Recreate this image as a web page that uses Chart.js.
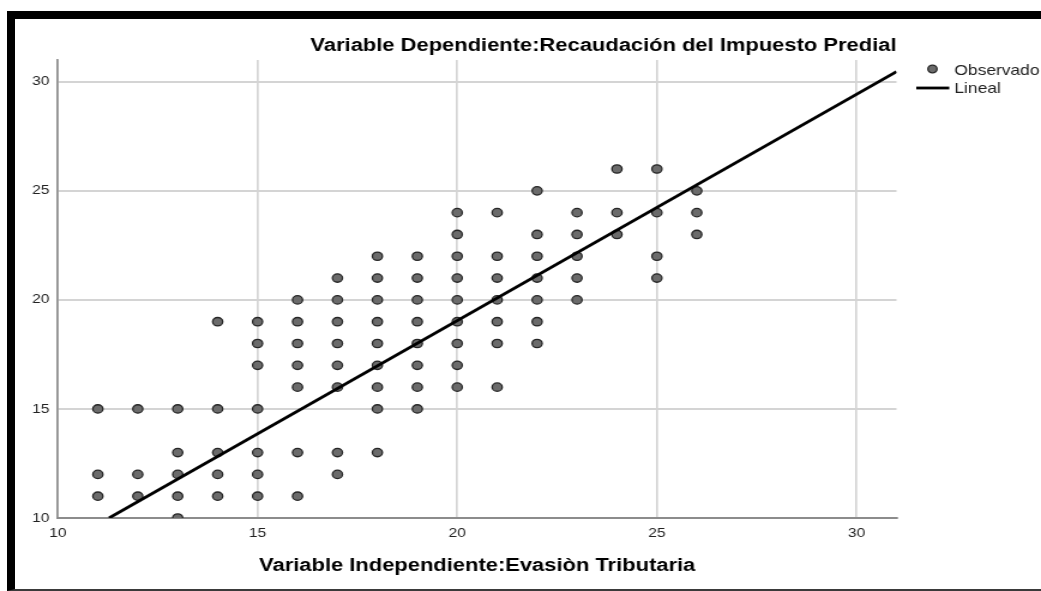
<!DOCTYPE html>
<html>
<head>
<meta charset="utf-8">
<title>Recaudación del Impuesto Predial vs Evasión Tributaria</title>
<script src="https://cdn.jsdelivr.net/npm/chart.js@4.4.1/dist/chart.umd.min.js"></script>
<style>
    html, body { margin: 0; padding: 0; background: #fff; overflow: hidden; width: 1041px; height: 591px; }
    #stretch { position: absolute; left: 0; top: 0; transform-origin: 0 0; }
    #frame {
        position: absolute; left: 7px; top: 11px; right: -20px; height: 570px;
        border-top: 8px solid #000; border-left: 8px solid #000; border-bottom: 2px solid #3a3a3a;
        pointer-events: none;
    }
</style>
</head>
<body>
<div id="stretch"><canvas id="scatterChart"></canvas></div>
<div id="frame"></div>
<script>
// Evasión Tributaria (x) columns and the observed Recaudación values (y) in each column
const evasion = [11, 12, 13, 14, 15, 16, 17, 18, 19, 20, 21, 22, 23, 24, 25, 26];
const recaudacion = [
    [15, 12, 11],
    [15, 12, 11],
    [15, 13, 12, 11, 10],
    [19, 15, 13, 12, 11],
    [19, 18, 17, 15, 13, 12, 11],
    [20, 19, 18, 17, 16, 13, 11],
    [21, 20, 19, 18, 17, 16, 13, 12],
    [22, 21, 20, 19, 18, 17, 16, 15, 13],
    [22, 21, 20, 19, 18, 17, 16, 15],
    [24, 23, 22, 21, 20, 19, 18, 17, 16],
    [24, 22, 21, 20, 19, 18, 16],
    [25, 23, 22, 21, 20, 19, 18],
    [24, 23, 22, 21, 20],
    [26, 24, 23],
    [26, 24, 22, 21],
    [25, 24, 23]
];

// Linear fit ("Lineal")
const fitSlope = 1.038;
const fitIntercept = -1.71;

// Axes
const axisTicks = [10, 15, 20, 25, 30];
const axisMin = 10;
const axisMax = 31;

const titleText = 'Variable Dependiente:Recaudación del Impuesto Predial';
const xTitleText = 'Variable Independiente:Evasiòn Tributaria';
const legendLabels = ['Observado', 'Lineal'];

// The original picture is stretched sideways, so draw narrower and scale in X
const STRETCH = 1.2;
const W = Math.round(1041 / STRETCH);
const H = 591;
const FONT = "'Liberation Sans', Arial, sans-serif";

const canvas = document.getElementById('scatterChart');
canvas.width = W;
canvas.height = H;
document.getElementById('stretch').style.transform = `scaleX(${1041 / W})`;

// Build the points
const observed = [];
evasion.forEach((x, i) => {
    recaudacion[i].forEach(y => observed.push({ x: x, y: y }));
});

const fitLine = (x) => fitSlope * x + fitIntercept;
const fitStart = Math.max(axisMin, (axisMin - fitIntercept) / fitSlope);
const fitPoints = [fitStart, axisMax].map(x => ({ x: x, y: fitLine(x) }));

// Legend at the right of the plot, drawn by hand
const sideLegend = {
    id: 'sideLegend',
    afterDraw(chart) {
        const ctx = chart.ctx;
        const area = chart.chartArea;
        const pts = chart.data.datasets[0];
        const line = chart.data.datasets[1];
        ctx.save();
        // Observado marker
        ctx.beginPath();
        ctx.arc(area.right + 30, 69, 3.8, 0, Math.PI * 2);
        ctx.fillStyle = pts.pointBackgroundColor;
        ctx.fill();
        ctx.lineWidth = pts.pointBorderWidth;
        ctx.strokeStyle = pts.pointBorderColor;
        ctx.stroke();
        // Lineal marker
        ctx.beginPath();
        ctx.moveTo(area.right + 16.5, 88);
        ctx.lineTo(area.right + 44, 88);
        ctx.lineWidth = line.borderWidth;
        ctx.strokeStyle = line.borderColor;
        ctx.stroke();
        // Labels
        ctx.font = `14.5px ${FONT}`;
        ctx.fillStyle = '#222';
        ctx.textBaseline = 'middle';
        ctx.textAlign = 'left';
        ctx.fillText(legendLabels[0], area.right + 48.3, 70.5);
        ctx.fillText(legendLabels[1], area.right + 48.3, 89);
        ctx.restore();
    }
};

const setTicks = (scale) => { scale.ticks = axisTicks.map(v => ({ value: v })); };

new Chart(canvas, {
    type: 'scatter',
    data: {
        datasets: [
            {
                label: legendLabels[0],
                data: observed,
                pointRadius: 4.2,
                pointBackgroundColor: '#6b6b6b',
                pointBorderColor: '#262626',
                pointBorderWidth: 1.3,
                order: 1
            },
            {
                label: legendLabels[1],
                data: fitPoints,
                showLine: true,
                borderColor: '#000',
                borderWidth: 2.8,
                pointRadius: 0,
                order: 0
            }
        ]
    },
    options: {
        responsive: false,
        animation: false,
        devicePixelRatio: 1,
        layout: {
            padding: { left: 10, right: W - 747.5, top: 22, bottom: 8.5 }
        },
        plugins: {
            legend: { display: false },
            tooltip: { enabled: false },
            title: {
                display: true,
                text: titleText,
                align: 'end',
                color: '#000',
                font: { family: FONT, size: 18.3, weight: 'bold' },
                padding: { top: 13, bottom: 3 }
            }
        },
        scales: {
            x: {
                type: 'linear',
                position: 'bottom',
                min: axisMin,
                max: axisMax,
                afterBuildTicks: setTicks,
                afterFit: (s) => { s.height = 64.5; },
                grid: { color: '#d4d4d4', lineWidth: 1.7, drawTicks: false },
                border: { color: '#8c8c8c', width: 2 },
                ticks: { color: '#222', padding: 8, font: { family: FONT, size: 13 } },
                title: {
                    display: true,
                    text: xTitleText,
                    color: '#000',
                    font: { family: FONT, size: 18.3, weight: 'bold' },
                    padding: { top: 0, bottom: 6 }
                }
            },
            y: {
                type: 'linear',
                min: axisMin,
                max: axisMax,
                afterBuildTicks: setTicks,
                afterFit: (s) => { s.width = 38.3; },
                grid: { color: '#d4d4d4', lineWidth: 2, drawTicks: false },
                border: { color: '#8c8c8c', width: 1.7 },
                ticks: { color: '#222', padding: 7, font: { family: FONT, size: 13 } }
            }
        }
    },
    plugins: [sideLegend]
});
</script>
</body>
</html>
